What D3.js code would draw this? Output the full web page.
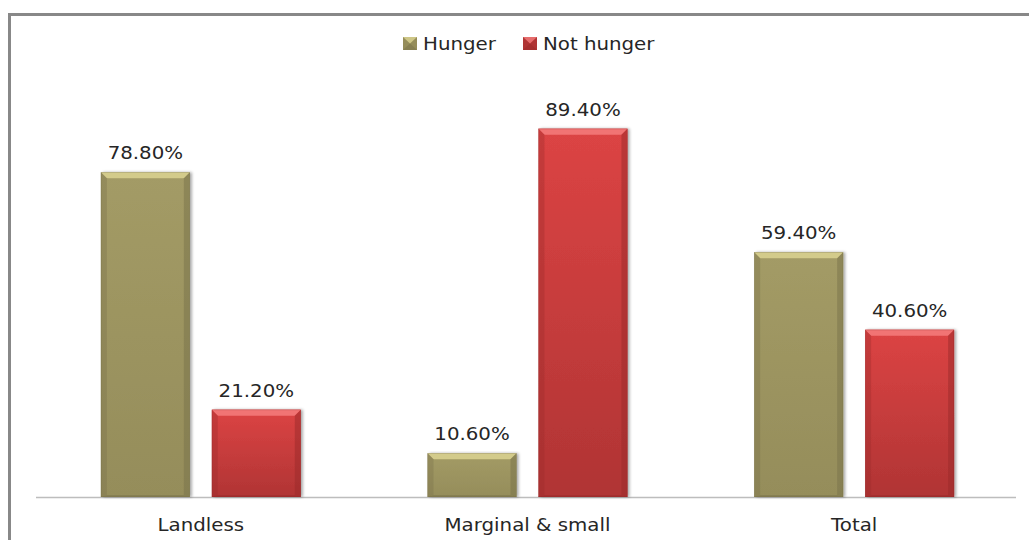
<!DOCTYPE html>
<html>
<head>
<meta charset="utf-8">
<script src="https://cdn.jsdelivr.net/npm/d3@7/dist/d3.min.js"></script>
<style>
  html, body { margin: 0; padding: 0; background: #fff; }
  svg { display: block; }
  text { font-family: "DejaVu Sans", sans-serif; fill: #262626; }
</style>
</head>
<body>
<svg id="chart" width="1029" height="540"></svg>
<script>
// Share of households by hunger status and land ownership group (%)
const categories = ["Landless", "Marginal & small", "Total"];
const seriesNames = ["Hunger", "Not hunger"];
const hungerValues = [78.8, 10.6, 59.4];
const notHungerValues = [21.2, 89.4, 40.6];
const valueLabels = [["78.80%", "21.20%"], ["10.60%", "89.40%"], ["59.40%", "40.60%"]];

const palette = {
  "Hunger":     { top: "#a39b66", bottom: "#958d5a", light: "#dcd492", dark: "#78714a", edge: "#6e6842" },
  "Not hunger": { top: "#dc4444", bottom: "#b03434", light: "#f47c7c", dark: "#9a2a2a", edge: "#8a2525" }
};

const svg = d3.select("#chart");
const W = 1029, H = 540;
const plot = { left: 36, right: 1016, top: 85, bottom: 497 };
const textScale = 1.1;

// Outer frame (right/bottom edges fall outside the view)
svg.append("path")
  .attr("d", `M9.5,${H + 5} L9.5,14.5 L${W + 5},14.5`)
  .attr("fill", "none")
  .attr("stroke", "#888888")
  .attr("stroke-width", 3);

const x0 = d3.scaleBand().domain(categories).range([plot.left + 1.5, plot.right + 1.5])
  .paddingInner(0.388).paddingOuter(0.194);
const x1 = d3.scaleBand().domain(seriesNames).range([0, x0.bandwidth()])
  .paddingInner(0.198).paddingOuter(0);
const y = d3.scaleLinear().domain([0, 100]).range([plot.bottom, plot.top]);

const defs = svg.append("defs");
seriesNames.forEach((s, i) => {
  const g = defs.append("linearGradient").attr("id", "grad" + i)
    .attr("x1", 0).attr("y1", 0).attr("x2", 0).attr("y2", 1);
  g.append("stop").attr("offset", "0%").attr("stop-color", palette[s].top);
  g.append("stop").attr("offset", "100%").attr("stop-color", palette[s].bottom);
});
const shadow = defs.append("filter").attr("id", "shadow")
  .attr("x", "-20%").attr("y", "-5%").attr("width", "140%").attr("height", "110%");
shadow.append("feGaussianBlur").attr("in", "SourceAlpha").attr("stdDeviation", 1.5);
shadow.append("feOffset").attr("dx", 1.5).attr("dy", 0).attr("result", "b");
shadow.append("feComponentTransfer").append("feFuncA").attr("type", "linear").attr("slope", 0.35);
const merge = shadow.append("feMerge");
merge.append("feMergeNode");
merge.append("feMergeNode").attr("in", "SourceGraphic");

const rows = categories.map((c, i) => ({
  category: c,
  values: [
    { series: "Hunger", value: hungerValues[i], label: valueLabels[i][0], si: 0 },
    { series: "Not hunger", value: notHungerValues[i], label: valueLabels[i][1], si: 1 }
  ]
}));

// Category axis line
svg.append("line")
  .attr("x1", plot.left).attr("x2", plot.right)
  .attr("y1", plot.bottom + 0.5).attr("y2", plot.bottom + 0.5)
  .attr("stroke", "#bdbdbd").attr("stroke-width", 1.5);

const groups = svg.selectAll("g.cat").data(rows).join("g")
  .attr("class", "cat")
  .attr("transform", d => `translate(${x0(d.category)},0)`);

const bars = groups.selectAll("g.bar").data(d => d.values).join("g").attr("class", "bar");

const b = 6; // bevel size
bars.each(function (d) {
  const g = d3.select(this);
  const bx = x1(d.series), bw = x1.bandwidth();
  const by = y(d.value), bh = y(0) - y(d.value);
  const p = palette[d.series];
  g.append("rect").attr("x", bx).attr("y", by).attr("width", bw).attr("height", bh)
    .attr("fill", `url(#grad${d.si})`).attr("filter", "url(#shadow)");
  const poly = pts => pts.map(q => q.join(",")).join(" ");
  // top bevel
  g.append("polygon").attr("points", poly([[bx, by], [bx + bw, by], [bx + bw - b, by + b], [bx + b, by + b]]))
    .attr("fill", p.light).attr("opacity", 0.85);
  // left bevel
  g.append("polygon").attr("points", poly([[bx, by], [bx + b, by + b], [bx + b, by + bh - 2], [bx, by + bh]]))
    .attr("fill", p.dark).attr("opacity", 0.35);
  // right bevel
  g.append("polygon").attr("points", poly([[bx + bw, by], [bx + bw - b, by + b], [bx + bw - b, by + bh - 2], [bx + bw, by + bh]]))
    .attr("fill", p.dark).attr("opacity", 0.5);
  // bottom bevel
  g.append("polygon").attr("points", poly([[bx, by + bh], [bx + b, by + bh - 2], [bx + bw - b, by + bh - 2], [bx + bw, by + bh]]))
    .attr("fill", p.dark).attr("opacity", 0.5);
  g.append("rect").attr("x", bx + 0.25).attr("y", by + 0.25).attr("width", bw - 0.5).attr("height", bh - 0.5)
    .attr("fill", "none").attr("stroke", p.edge).attr("stroke-opacity", 0.45).attr("stroke-width", 0.5);
  // value label
  g.append("text")
    .attr("transform", `translate(${bx + bw / 2},${by - 13}) scale(${textScale},1)`)
    .attr("text-anchor", "middle")
    .attr("font-size", 18)
    .text(d.label);
});

// Category labels
svg.append("g").selectAll("text").data(categories).join("text")
  .attr("transform", d => `translate(${x0(d) + x0.bandwidth() / 2},${plot.bottom + 34}) scale(${textScale},1)`)
  .attr("text-anchor", "middle")
  .attr("font-size", 18)
  .text(d => d);

// Legend
const legendItems = [
  { name: seriesNames[0], x: 403 },
  { name: seriesNames[1], x: 523 }
];
const legend = svg.append("g").attr("class", "legend");
legendItems.forEach((it, i) => {
  const p = palette[it.name];
  const lg = legend.append("g").attr("transform", `translate(${it.x},37)`);
  lg.append("rect").attr("width", 14).attr("height", 13).attr("fill", p.bottom);
  lg.append("polygon").attr("points", "0,0 14,0 7,6.5").attr("fill", p.light).attr("opacity", 0.8);
  lg.append("polygon").attr("points", "0,13 14,13 7,6.5").attr("fill", p.dark).attr("opacity", 0.5);
  lg.append("text")
    .attr("transform", `translate(20,13) scale(${textScale},1)`)
    .attr("font-size", 18)
    .text(it.name);
});
</script>
</body>
</html>
